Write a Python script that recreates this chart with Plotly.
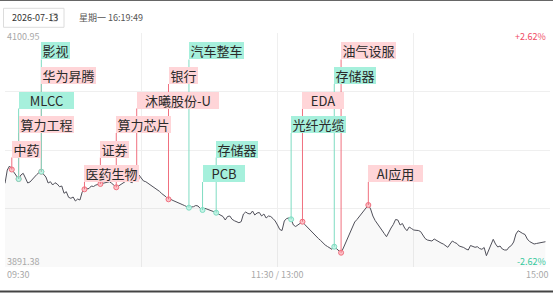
import plotly.graph_objects as go

# ---------------- data ----------------
minutes = list(range(239))  # minutes after 09:30 (lunch break removed)
prices = [
    3966.33, 3978.25, 3981.83, 3978.70, 3975.56, 3972.88, 3970.19, 3973.77, 3975.29, 3971.08,
    3966.60, 3967.50, 3970.19, 3971.98, 3974.22, 3976.01, 3976.73, 3974.67, 3971.98, 3966.60,
    3967.77, 3964.81, 3966.87, 3965.71, 3963.29, 3963.92, 3957.38, 3958.82, 3953.80, 3952.91,
    3954.07, 3950.48, 3952.28, 3951.38, 3958.55, 3960.97, 3961.24, 3961.68, 3963.92, 3963.47,
    3964.81, 3965.26, 3965.71, 3966.60, 3966.87, 3967.50, 3967.77, 3966.33, 3964.81, 3962.75,
    3963.92, 3965.26, 3966.33, 3968.39, 3969.29, 3967.77, 3966.87, 3969.29, 3971.08, 3973.77,
    3970.81, 3968.39, 3967.77, 3966.33, 3965.71, 3963.92, 3962.58, 3960.97, 3959.18, 3957.20,
    3955.86, 3954.07, 3952.01, 3952.01, 3950.93, 3949.86, 3949.14, 3948.25, 3947.35, 3946.46,
    3945.56, 3944.49, 3945.11, 3945.38, 3946.46, 3946.01, 3943.76, 3942.42, 3943.94, 3943.32,
    3942.42, 3941.79, 3940.90, 3940.00, 3938.84, 3937.67, 3936.60, 3933.47, 3936.60, 3937.05,
    3934.09, 3932.84, 3932.13, 3931.05, 3931.95, 3938.84, 3940.63, 3939.29, 3938.84, 3941.53,
    3937.95, 3939.74, 3940.18, 3937.05, 3938.84, 3935.26, 3937.05, 3936.60, 3934.81, 3932.57,
    3928.99, 3924.96, 3924.06, 3932.57, 3934.81, 3935.26, 3934.09, 3928.99, 3927.64, 3928.99,
    3930.78, 3931.95, 3929.44, 3927.20, 3924.96, 3923.17, 3920.93, 3919.14, 3916.90, 3915.11,
    3912.87, 3911.08, 3909.74, 3908.84, 3907.23, 3909.56, 3907.50, 3905.70, 3904.18, 3908.39,
    3913.32, 3918.24, 3922.72, 3928.10, 3931.68, 3933.92, 3936.60, 3939.47, 3942.42, 3945.11,
    3946.90, 3943.32, 3937.05, 3933.02, 3930.34, 3927.20, 3924.06, 3921.38, 3918.51, 3922.72,
    3926.30, 3929.44, 3933.92, 3933.47, 3928.99, 3930.34, 3926.30, 3923.88, 3927.20, 3925.85,
    3924.51, 3924.24, 3924.06, 3923.17, 3920.03, 3916.90, 3915.56, 3915.11, 3914.66, 3916.45,
    3915.11, 3913.77, 3912.87, 3911.98, 3910.63, 3909.02, 3911.98, 3914.66, 3913.32, 3912.42,
    3910.18, 3909.74, 3908.84, 3907.50, 3906.60, 3910.63, 3909.74, 3909.02, 3909.56, 3907.95,
    3907.23, 3908.84, 3901.50, 3906.60, 3911.08, 3916.18, 3911.98, 3909.29, 3910.18, 3907.50,
    3906.60, 3906.60, 3909.29, 3910.63, 3913.77, 3920.93, 3923.88, 3922.27, 3921.38, 3920.48,
    3916.45, 3914.21, 3912.87, 3911.98, 3912.42, 3912.87, 3913.14, 3913.59, 3914.03,
]
y_max = 4100.95
y_min = 3891.38
pct_max_label = "+2.62%"
pct_min_label = "-2.62%"
tick_times = ["09:30", "11:30 / 13:00", "15:00"]
tick_minutes = [0, 120, 240]

event_names = ["中药", "算力工程", "MLCC", "华为昇腾", "影视", "医药生物", "证券", "算力芯片",
               "沐曦股份-U", "银行", "汽车整车", "PCB", "存储器", "光纤光缆", "EDA", "存储器",
               "油气设服", "AI应用"]
event_minutes = [3, 6, 6, 16, 16, 35, 42, 49, 58, 72, 81, 87, 93, 126, 131, 145, 148, 160]
event_dirs = ["up", "up", "down", "up", "down", "up", "up", "up", "up", "up", "down", "down",
              "down", "down", "up", "down", "up", "up"]
event_rows = [4, 3, 2, 1, 0, 5, 4, 3, 2, 1, 0, 5, 4, 3, 2, 1, 0, 5]

date_text = "2026-07-13"
clock_text = "星期一 16:19:49"

# ---------------- layout helpers ----------------
W, H = 553, 293
ML, MR, MT, MB = 5, 3, 33, 26
PW, PH = W - ML - MR, H - MT - MB


def px_x(px):
    return (px - ML) / PW


def px_y(py):
    return (H - MB - py) / PH


FONT = "Noto Sans CJK SC, Noto Sans, sans-serif"
UP_BOX, UP_LINE, UP_DOT = "#FFD5D8", "#F0707F", "#FBC3C9"
DN_BOX, DN_LINE, DN_DOT = "#A6F0DC", "#7FDCC2", "#C5F3E6"

row_top_px = [42.5, 67.0, 91.5, 116.0, 140.5, 165.0]
BOX_H = 17

fig = go.Figure()

# price line with light fill
fig.add_trace(go.Scatter(
    x=minutes, y=prices, mode="lines",
    line=dict(color="#50505a", width=1),
    fill="tozeroy", fillcolor="rgba(0,0,0,0.022)",
    hoverinfo="skip", showlegend=False,
))

shapes = []
annotations = []

for name, m, d, r in zip(event_names, event_minutes, event_dirs, event_rows):
    p = prices[m]
    top_px = row_top_px[r]
    bottom_paper = px_y(top_px + BOX_H)
    bottom_price = y_min + bottom_paper * (y_max - y_min)
    lc = UP_LINE if d == "up" else DN_LINE
    bc = UP_BOX if d == "up" else DN_BOX
    shapes.append(dict(type="line", xref="x", yref="y", x0=m, x1=m, y0=p, y1=bottom_price,
                       line=dict(color=lc, width=1), layer="above"))
    annotations.append(dict(
        x=m, xref="x", xanchor="left", y=px_y(top_px), yref="paper", yanchor="top",
        text=name, showarrow=False, bgcolor=bc, borderwidth=0, borderpad=1,
        width=round(13.3 * len(name)), height=BOX_H - 2, align="center", valign="middle",
        font=dict(family=FONT, size=13, color="#2a2a2a"),
    ))

# event dots
for d in ("up", "down"):
    xs = [m for m, dd in zip(event_minutes, event_dirs) if dd == d]
    ys = [prices[m] for m in xs]
    fig.add_trace(go.Scatter(
        x=xs, y=ys, mode="markers",
        marker=dict(size=5, color=UP_DOT if d == "up" else DN_DOT,
                    line=dict(color=UP_LINE if d == "up" else DN_LINE, width=1)),
        hoverinfo="skip", showlegend=False,
    ))

# axis labels
small = dict(family=FONT, size=9, color="#a8a8a8")
annotations.append(dict(x=0, y=px_y(36.5), xref="paper", yref="paper", xanchor="left",
                        yanchor="middle", text=f"{y_max:.2f}", showarrow=False, font=small))
annotations.append(dict(x=0, y=px_y(261), xref="paper", yref="paper", xanchor="left",
                        yanchor="middle", text=f"{y_min:.2f}", showarrow=False, font=small))
annotations.append(dict(x=px_x(548), y=px_y(36.5), xref="paper", yref="paper", xanchor="right",
                        yanchor="middle", text=pct_max_label, showarrow=False,
                        font=dict(family=FONT, size=9, color="#F04B64")))
annotations.append(dict(x=px_x(548), y=px_y(261), xref="paper", yref="paper", xanchor="right",
                        yanchor="middle", text=pct_min_label, showarrow=False,
                        font=dict(family=FONT, size=9, color="#35C99E")))
for t, m, anc in zip(tick_times, tick_minutes, ["left", "center", "right"]):
    annotations.append(dict(x=m, xref="x", y=px_y(274), yref="paper", xanchor=anc,
                            yanchor="middle", text=t, showarrow=False, font=small))

# header
shapes.append(dict(type="rect", xref="paper", yref="paper", x0=px_x(3.5), x1=px_x(64),
                   y0=px_y(27.3), y1=px_y(8.3), line=dict(color="#dcdcdc", width=1),
                   fillcolor="white", layer="above"))
shapes.append(dict(type="rect", xref="paper", yref="paper", x0=px_x(51), x1=px_x(57),
                   y0=px_y(21), y1=px_y(13.5), line=dict(color="#c8c8c8", width=1),
                   fillcolor="white", layer="above"))
shapes.append(dict(type="line", xref="paper", yref="paper", x0=px_x(51), x1=px_x(57),
                   y0=px_y(15.5), y1=px_y(15.5), line=dict(color="#c8c8c8", width=1)))
annotations.append(dict(x=px_x(9.5), y=px_y(17.5), xref="paper", yref="paper", xanchor="left",
                        yanchor="middle", text=date_text, showarrow=False,
                        font=dict(family=FONT, size=9, color="#333333")))
annotations.append(dict(x=px_x(77), y=px_y(17), xref="paper", yref="paper", xanchor="left",
                        yanchor="middle", text=clock_text, showarrow=False,
                        font=dict(family=FONT, size=9, color="#555555")))
# frame lines (top / bottom)
shapes.append(dict(type="line", xref="paper", yref="paper", x0=px_x(0), x1=px_x(553),
                   y0=px_y(0.5), y1=px_y(0.5), line=dict(color="#666666", width=1)))
shapes.append(dict(type="line", xref="paper", yref="paper", x0=px_x(0), x1=px_x(553),
                   y0=px_y(291.5), y1=px_y(291.5), line=dict(color="#444444", width=2)))

mid = (y_max + y_min) / 2
q = (y_max - y_min) / 4
fig.update_layout(
    width=W, height=H,
    margin=dict(l=ML, r=MR, t=MT, b=MB, pad=0),
    paper_bgcolor="white", plot_bgcolor="white",
    showlegend=False,
    shapes=shapes, annotations=annotations,
    xaxis=dict(range=[0, 240], tickvals=[60, 120, 180], showticklabels=False,
               showgrid=True, gridcolor="#efefef", gridwidth=1, zeroline=False,
               showline=False, fixedrange=True),
    yaxis=dict(range=[y_min, y_max], tickvals=[y_min, mid - q, mid, mid + q, y_max],
               showticklabels=False, showgrid=True, gridcolor="#efefef", gridwidth=1,
               zeroline=False, showline=False, fixedrange=True),
)

fig.write_html("out.html")
